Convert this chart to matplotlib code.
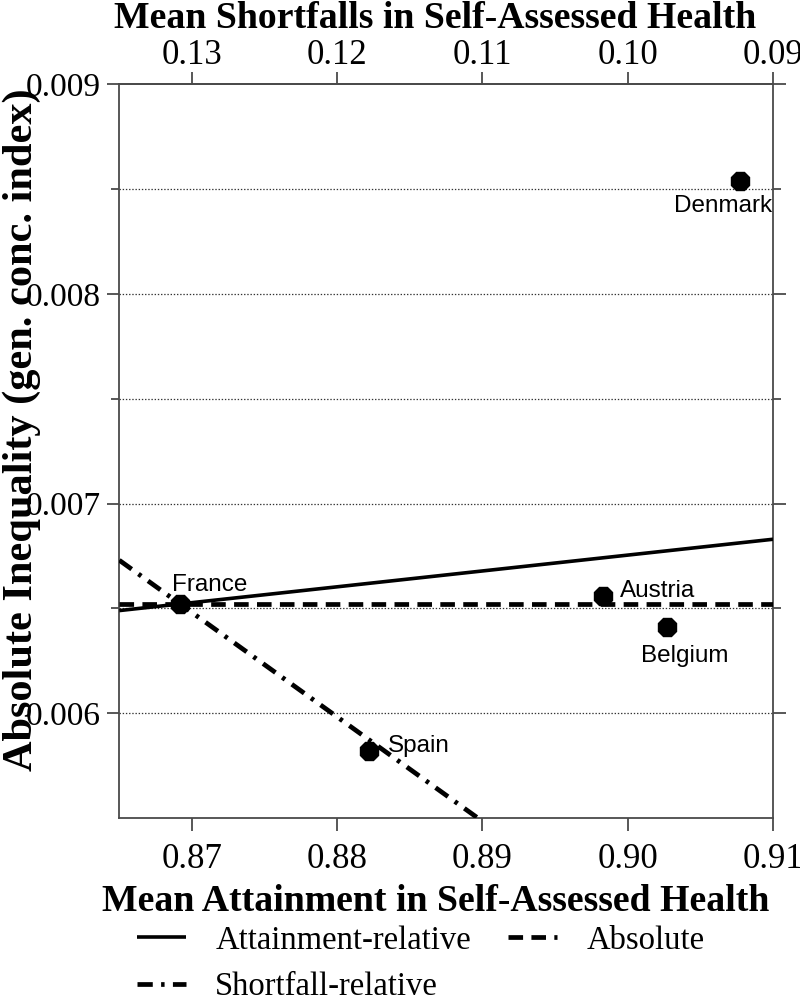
import matplotlib
matplotlib.use('Agg')
import matplotlib.pyplot as plt
from matplotlib.ticker import FormatStrFormatter, FixedLocator

# ---------------- data ----------------
countries = ['France', 'Spain', 'Austria', 'Belgium', 'Denmark']
mean_attainment = [0.8692, 0.8822, 0.8983, 0.9027, 0.9077]
abs_inequality = [0.00652, 0.00582, 0.00656, 0.00641, 0.00854]

# iso-inequality reference lines (endpoints)
attain_rel_x = [0.865, 0.91]
attain_rel_y = [0.00649, 0.00683]
absolute_x = [0.865, 0.91]
absolute_y = [0.00652, 0.00652]
shortfall_rel_x = [0.865, 0.8897]
shortfall_rel_y = [0.00673, 0.0055]

x_ticks = [0.87, 0.88, 0.89, 0.90, 0.91]
shortfall_ticks = [0.13, 0.12, 0.11, 0.10, 0.09]
y_ticks = [0.006, 0.007, 0.008, 0.009]
grid_levels = [0.006, 0.0065, 0.007, 0.0075, 0.008, 0.0085]

legend_labels = ['Attainment-relative', 'Absolute', 'Shortfall-relative']

# ---------------- styles ----------------
plt.rcParams['lines.scale_dashes'] = False
SERIF = ['Liberation Serif', 'DejaVu Serif']
SANS = ['Liberation Sans', 'DejaVu Sans']
spine_col = '#4a4a4a'
label_offsets = {  # pixel offsets of label baseline-left from point
    'France': (-8, 13.7),
    'Spain': (18.6, -1.3),
    'Austria': (16.6, -0.7),
    'Belgium': (-26, -34.4),
    'Denmark': (-65.3, -31.6),
}

fig = plt.figure(figsize=(8, 9.98), dpi=100)
ax = fig.add_axes([0.1491, 0.1801, 0.9663 - 0.1491, 0.9158 - 0.1801])

ax.set_xlim(0.865, 0.91)
ax.set_ylim(0.0055, 0.009)

# grid
for g in grid_levels:
    ax.axhline(g, color='#333333', lw=0.9, ls=(0, (1, 1.3)), zorder=1)

l1, = ax.plot(attain_rel_x, attain_rel_y, color='black', lw=2.6, ls='-',
              solid_capstyle='butt', zorder=3, label=legend_labels[0])
l2, = ax.plot(absolute_x, absolute_y, color='black', lw=3.4, ls=(0, (10.5, 6)),
              zorder=3, label=legend_labels[1])
l3, = ax.plot(shortfall_rel_x, shortfall_rel_y, color='black', lw=3.4,
              ls=(0, (11, 6, 2.5, 6)), zorder=3, label=legend_labels[2])

ax.plot(mean_attainment, abs_inequality, ls='none', marker='8', ms=14.5,
        color='black', zorder=4)

for c, xv, yv in zip(countries, mean_attainment, abs_inequality):
    dx, dy = label_offsets[c]
    ax.annotate(c, (xv, yv), xytext=(dx, dy), textcoords='offset pixels',
                ha='left', va='baseline', fontsize=17.5, family=SANS,
                zorder=5, annotation_clip=False)

# axes styling
for s in ax.spines.values():
    s.set_color(spine_col)
    s.set_linewidth(1.3)

ax.xaxis.set_major_locator(FixedLocator(x_ticks))
ax.xaxis.set_major_formatter(FormatStrFormatter('%.2f'))
ax.yaxis.set_major_locator(FixedLocator(y_ticks))
ax.yaxis.set_major_formatter(FormatStrFormatter('%.3f'))
ax.yaxis.set_minor_locator(FixedLocator(grid_levels))
ax.tick_params(axis='x', which='major', direction='out', length=9, width=1.3,
               color=spine_col, labelsize=25, pad=9)
ax.tick_params(axis='y', which='major', direction='out', length=9, width=1.3,
               color=spine_col, labelsize=24, pad=4, right=True, labelright=False)
ax.tick_params(axis='y', which='minor', direction='out', length=6, width=1.3,
               color=spine_col, right=True)
for lab in ax.get_xticklabels() + ax.get_yticklabels():
    lab.set_family(SERIF)

secax = ax.secondary_xaxis('top', functions=(lambda a: 1 - a, lambda s: 1 - s))
secax.set_xticks(shortfall_ticks)
secax.xaxis.set_major_formatter(FormatStrFormatter('%.2f'))
secax.tick_params(direction='out', length=9, width=1.3, color=spine_col,
                  labelsize=25, pad=0)
secax.spines['top'].set_color(spine_col)
secax.spines['top'].set_linewidth(1.3)
for lab in secax.get_xticklabels():
    lab.set_family(SERIF)

# top axis title
fig.text(0.544, 1 - 28 / 998, 'Mean Shortfalls in Self-Assessed Health',
         fontsize=27.2, fontweight='bold', family=SERIF, ha='center', va='baseline')

ax.set_xlabel('Mean Attainment in Self-Assessed Health', fontsize=27.2,
              fontweight='bold', family=SERIF)
ax.xaxis.set_label_coords(0.4845, -0.09)

ax.set_ylabel('Absolute Inequality (gen. conc. index)', fontsize=30.5,
              fontweight='bold', family=SERIF)
ax.yaxis.set_label_coords(-0.12, 0.529)

fig.legend(handles=[l1, l3, l2], labels=[legend_labels[0], legend_labels[2], legend_labels[1]],
           loc='upper left', bbox_to_anchor=(0.171, 0.073), ncol=2, frameon=False,
           prop={'family': SERIF, 'size': 23.5}, handlelength=1.5,
           handletextpad=0.9, columnspacing=1.15, labelspacing=0.5,
           borderaxespad=0, borderpad=0)

fig.savefig('out.png', dpi=100)
